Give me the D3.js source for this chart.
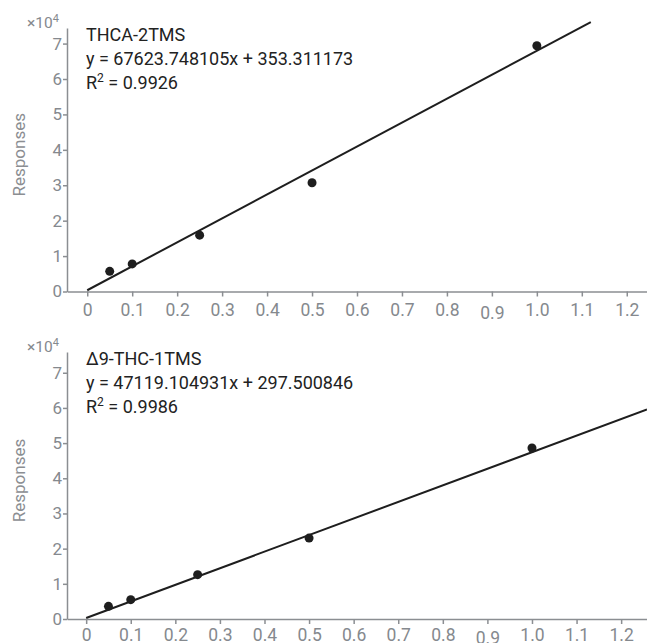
<!DOCTYPE html>
<html lang="en">
<head>
  <meta charset="UTF-8">
  <title>Calibration curves</title>
  <script src="https://d3js.org/d3.v7.min.js"></script>
  <style>
    body {
      margin: 0;
      padding: 0;
      background: #fff;
      font-family: Roboto, "Noto Sans", sans-serif;
    }
    .axis path, .axis line {
      stroke: #8b8e92;
      stroke-width: 1.5px;
    }
    .axis text {
      fill: #85898e;
      font-family: Roboto, sans-serif;
    }
    .note {
      fill: #222;
      font-size: 18px;
    }
  </style>
</head>
<body>
  <svg id="chart" width="647" height="643"></svg>

  <script>
    const concentrations = [0.05, 0.1, 0.25, 0.5, 1.0];
    const xTicks = [0, 0.1, 0.2, 0.3, 0.4, 0.5, 0.6, 0.7, 0.8, 0.9, 1.0, 1.1, 1.2];
    const xTickLabels = ["0", "0.1", "0.2", "0.3", "0.4", "0.5", "0.6", "0.7", "0.8", "0.9", "1.0", "1.1", "1.2"];
    const yTicks = [0, 1, 2, 3, 4, 5, 6, 7];

    // responses in units of 10^4
    const thcaResponses = [0.57, 0.78, 1.59, 3.07, 6.94];
    const thcResponses = [0.36, 0.55, 1.26, 2.30, 4.86];

    const compoundNames = ["THCA-2TMS", "\u03949-THC-1TMS"];
    const slopes = [67623.748105, 47119.104931];
    const intercepts = [353.311173, 297.500846];
    const rSquared = ["0.9926", "0.9986"];
    const fitRanges = [[0, 1.12], [0, 1.258]];

    const panels = [
      { responses: thcaResponses, xDomain: [-0.045, 1.245], yDomain: [0, 7.44], yRange: [291.5, 28], labelDy: 0.78 },
      { responses: thcResponses, xDomain: [-0.043, 1.258], yDomain: [0, 7.59], yRange: [619, 352], labelDy: 0.62 }
    ];

    const svg = d3.select("#chart");

    panels.forEach((p, i) => {
      const x = d3.scaleLinear().domain(p.xDomain).range([67, 647]);
      const y = d3.scaleLinear().domain(p.yDomain).range(p.yRange);
      const g = svg.append("g");

      // x axis
      const xAxis = g.append("g")
        .attr("class", "axis")
        .attr("transform", `translate(0,${p.yRange[0]})`)
        .call(d3.axisBottom(x).tickValues(xTicks)
          .tickFormat((d, j) => xTickLabels[j])
          .tickSize(5).tickSizeOuter(0).tickPadding(6));
      xAxis.selectAll("text")
        .attr("font-size", "17.5px")
        .attr("dy", (d) => (d === 0.9 ? p.labelDy + 0.16 : p.labelDy) + "em");

      // y axis
      const yAxis = g.append("g")
        .attr("class", "axis")
        .attr("transform", "translate(67,0)")
        .call(d3.axisLeft(y).tickValues(yTicks)
          .tickFormat(d3.format("d"))
          .tickSize(4).tickSizeOuter(0).tickPadding(1));
      yAxis.selectAll("text").attr("font-size", "17px");

      // exponent label
      const exp = g.append("text")
        .attr("x", 27)
        .attr("y", p.yRange[1])
        .attr("fill", "#85898e")
        .attr("font-size", "15.5px")
        .text("\u00d710");
      exp.append("tspan")
        .attr("font-size", "11px")
        .attr("dy", "-6")
        .text("4");

      // y label
      g.append("text")
        .attr("transform", `translate(25,${(p.yRange[0] + p.yRange[1]) / 2 - 5}) rotate(-90)`)
        .attr("text-anchor", "middle")
        .attr("fill", "#8b8e92")
        .attr("font-size", "17px")
        .text("Responses");

      // fitted line
      const fit = d => (slopes[i] * d + intercepts[i]) / 1e4;
      g.append("line")
        .attr("x1", x(fitRanges[i][0]))
        .attr("y1", y(fit(fitRanges[i][0])))
        .attr("x2", x(fitRanges[i][1]))
        .attr("y2", y(fit(fitRanges[i][1])))
        .attr("stroke", "#1e1e1e")
        .attr("stroke-width", 2);

      // points
      g.selectAll("circle")
        .data(concentrations)
        .enter()
        .append("circle")
        .attr("cx", d => x(d))
        .attr("cy", (d, j) => y(p.responses[j]))
        .attr("r", 4.5)
        .attr("fill", "#1e1e1e");

      // annotation
      const top = p.yRange[1];
      g.append("text").attr("class", "note")
        .attr("x", 86).attr("y", top + 13)
        .text(compoundNames[i]);
      g.append("text").attr("class", "note")
        .attr("x", 86).attr("y", top + 37)
        .text(`y = ${slopes[i].toFixed(6)}x + ${intercepts[i].toFixed(6)}`);
      const r = g.append("text").attr("class", "note")
        .attr("x", 86).attr("y", top + 61)
        .text("R");
      r.append("tspan").attr("font-size", "12px").attr("dy", "-7").text("2");
      r.append("tspan").attr("dy", "7").text(` = ${rSquared[i]}`);
    });
  </script>
</body>
</html>
